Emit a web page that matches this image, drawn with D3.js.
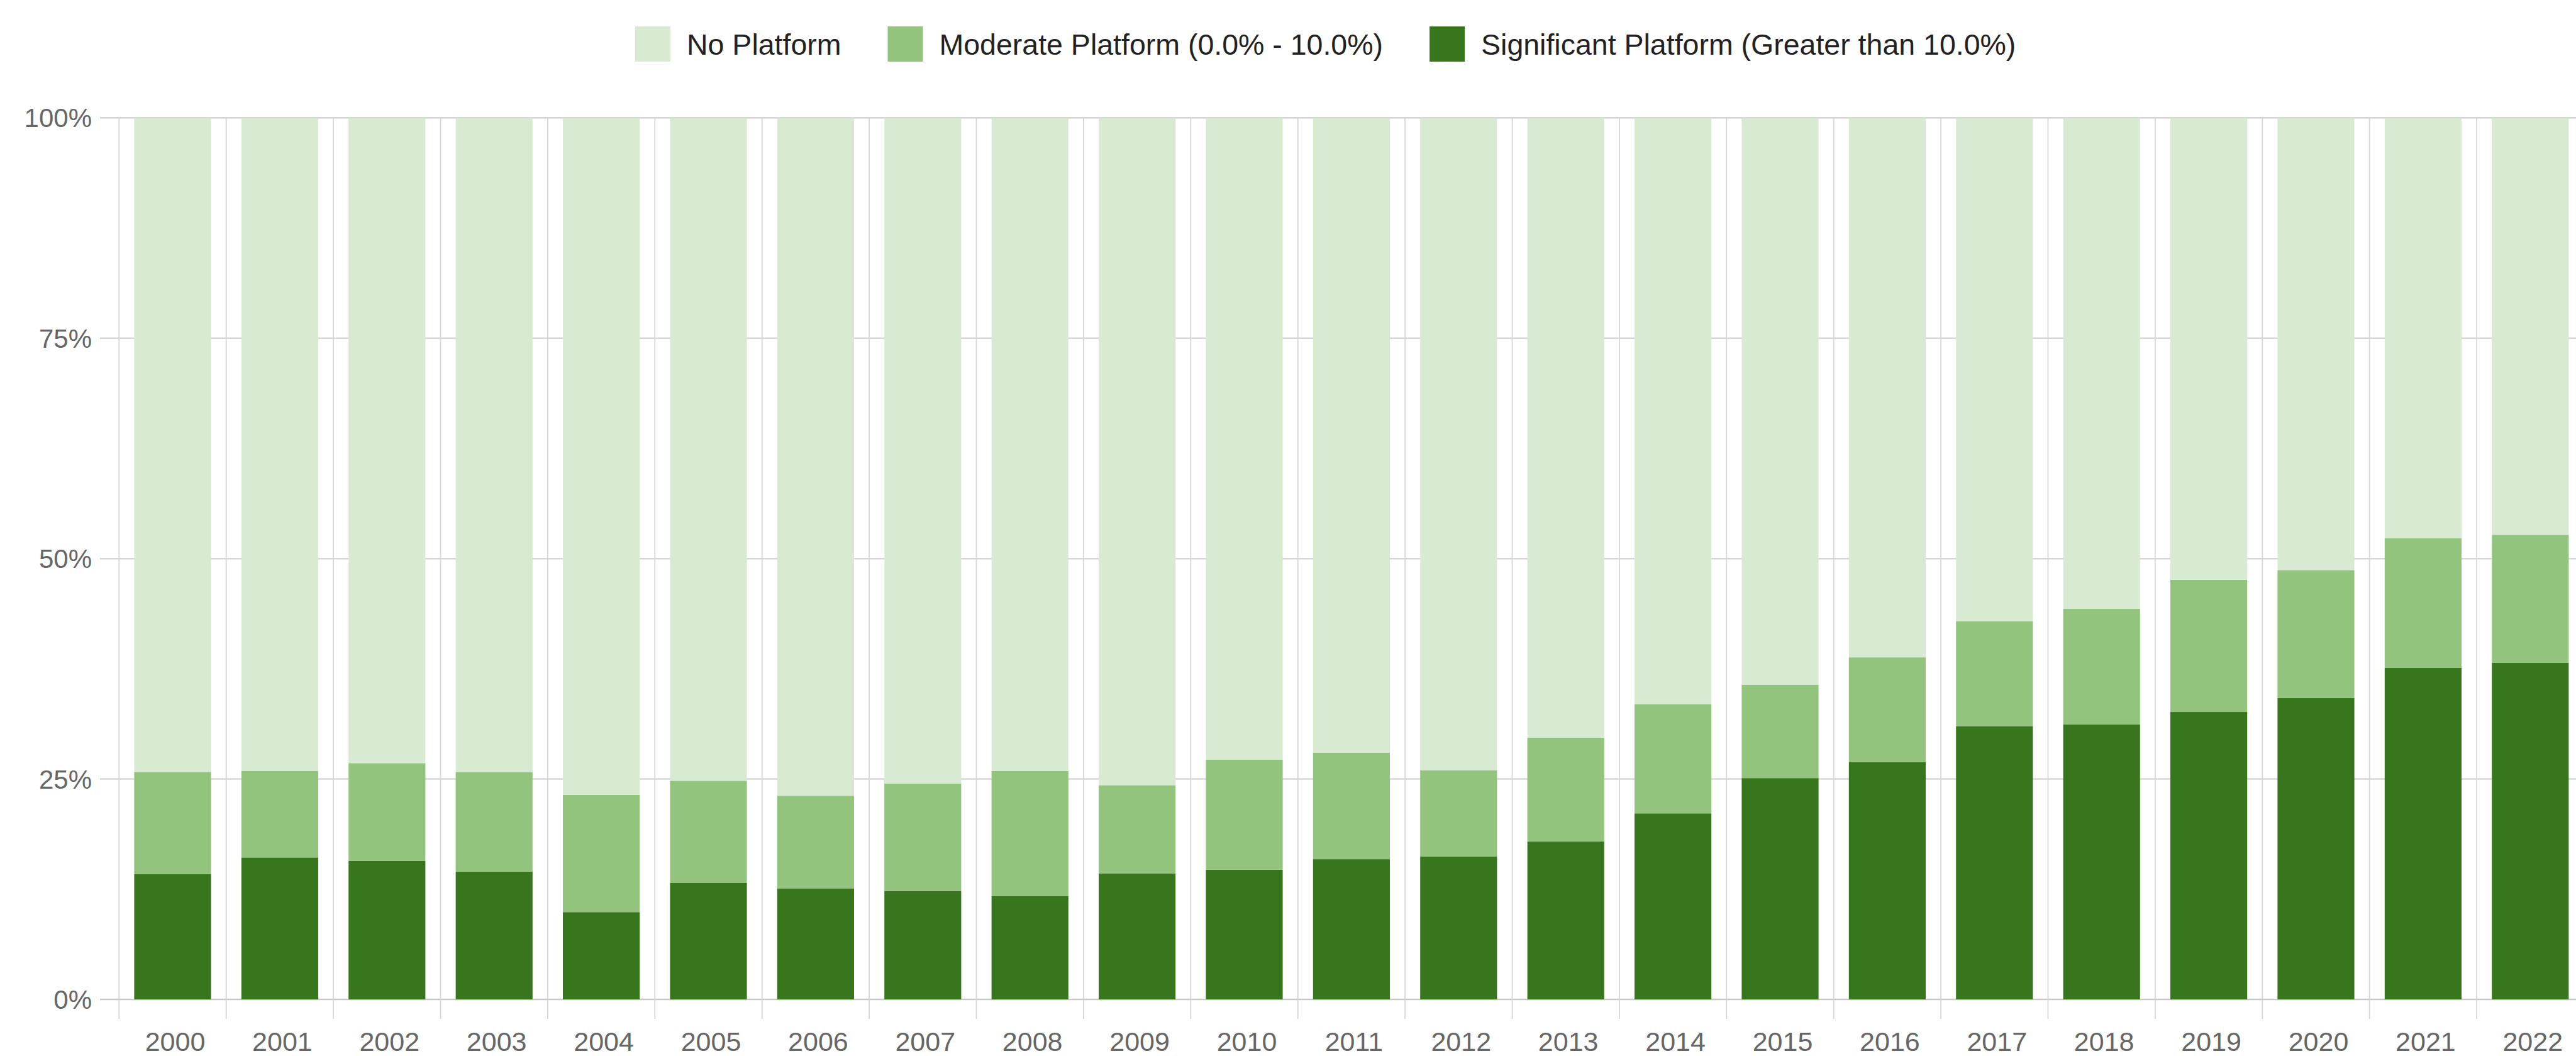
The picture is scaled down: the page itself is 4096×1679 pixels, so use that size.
<!DOCTYPE html>
<html>
<head>
    <meta charset="utf-8">
    <style>
        body {
            margin: 0;
            background: #fff;
            overflow: hidden;
        }

        svg {
            display: block;
            font-family: 'Liberation Sans', Arial, Helvetica, sans-serif;
        }
    </style>
    <title>Platform share by year</title>
</head>

<body>
    <svg width="4096" height="1679"></svg>
</body>

<script src="https://d3js.org/d3.v7.min.js"></script>
<script>
    // values, in percent of each year's total
    let years = ['2000', '2001', '2002', '2003', '2004', '2005', '2006', '2007', '2008', '2009', '2010', '2011',
        '2012', '2013', '2014', '2015', '2016', '2017', '2018', '2019', '2020', '2021', '2022']
    let significant = [14.2, 16.1, 15.7, 14.5, 9.9, 13.2, 12.6, 12.3, 11.7, 14.3, 14.7, 15.9,
        16.2, 17.9, 21.1, 25.1, 26.9, 31.0, 31.2, 32.6, 34.2, 37.6, 38.2]
    let moderate = [11.6, 9.8, 11.1, 11.3, 13.3, 11.6, 10.5, 12.2, 14.2, 10.0, 12.5, 12.1,
        9.8, 11.8, 12.4, 10.6, 11.9, 11.9, 13.1, 15.0, 14.5, 14.7, 14.5]
    let noPlatform = [74.2, 74.1, 73.2, 74.2, 76.8, 75.2, 76.9, 75.5, 74.1, 75.7, 72.8, 72.0,
        74.0, 70.3, 66.5, 64.3, 61.2, 57.1, 55.7, 52.4, 51.3, 47.7, 47.3]

    let seriesKeys = ['significant', 'moderate', 'none']
    let seriesNames = {
        none: 'No Platform',
        moderate: 'Moderate Platform (0.0% - 10.0%)',
        significant: 'Significant Platform (Greater than 10.0%)'
    }
    let legendOrder = ['none', 'moderate', 'significant']
    let yTicks = [0, 0.25, 0.5, 0.75, 1]

    let colors = {
        none: '#d9ead3',
        moderate: '#93c47d',
        significant: '#38761d'
    }

    let width = 4096
    let height = 1679
    let svg = d3.select('svg')

    let rows = years.map((y, i) => ({
        year: y,
        significant: significant[i],
        moderate: moderate[i],
        none: noPlatform[i]
    }))

    let stacked = d3.stack()
        .keys(seriesKeys)
        .offset(d3.stackOffsetExpand)(rows)

    let left = 189.3
    let step = 170.4
    let pad = 0.283

    let x = d3.scaleBand()
        .domain(years)
        .range([left, left + step * years.length])
        .paddingInner(pad)
        .paddingOuter(pad / 2)

    let y = d3.scaleLinear()
        .domain([0, 1])
        .range([1589, 187.3])

    // horizontal gridlines
    svg.append('g')
        .selectAll('line')
        .data(yTicks)
        .join('line')
        .attr('x1', 159)
        .attr('x2', width)
        .attr('y1', d => y(d))
        .attr('y2', d => y(d))
        .attr('stroke', d => d === 0 ? '#c8c8c8' : '#d6d6d6')
        .attr('stroke-width', 2.5)

    // vertical gridlines at category boundaries, with ticks below the baseline
    let bounds = years.map(d => x(d) - x.step() * pad / 2)
    bounds.push(bounds[bounds.length - 1] + x.step())
    svg.append('g')
        .selectAll('line')
        .data(bounds)
        .join('line')
        .attr('x1', d => d)
        .attr('x2', d => d)
        .attr('y1', y(1))
        .attr('y2', y(0) + 31)
        .attr('stroke', '#d6d6d6')
        .attr('stroke-width', 1.8)

    // bars
    svg.append('g')
        .selectAll('g')
        .data(stacked)
        .join('g')
        .attr('fill', d => colors[d.key])
        .selectAll('rect')
        .data(d => d)
        .join('rect')
        .attr('x', d => x(d.data.year))
        .attr('width', x.bandwidth())
        .attr('y', d => y(d[1]))
        .attr('height', d => y(d[0]) - y(d[1]))

    // y labels
    svg.append('g')
        .selectAll('text')
        .data(yTicks)
        .join('text')
        .attr('x', 146)
        .attr('y', d => y(d))
        .attr('dy', '0.36em')
        .attr('text-anchor', 'end')
        .attr('font-size', 42)
        .attr('fill', '#666')
        .text(d => d3.format('.0%')(d))

    // x labels
    svg.append('g')
        .selectAll('text')
        .data(years)
        .join('text')
        .attr('x', d => x(d) + x.bandwidth() / 2 + 4)
        .attr('y', 1656)
        .attr('dy', '0.36em')
        .attr('text-anchor', 'middle')
        .attr('font-size', 43)
        .attr('fill', '#666')
        .text(d => d)

    // legend
    let legend = svg.append('g')
    let lx = 1010
    let box = 56
    legendOrder.forEach(key => {
        legend.append('rect')
            .attr('x', lx)
            .attr('y', 70 - box / 2)
            .attr('width', box)
            .attr('height', box)
            .attr('fill', colors[key])
        let t = legend.append('text')
            .attr('x', lx + box + 26)
            .attr('y', 70)
            .attr('dy', '0.36em')
            .attr('font-size', 46.5)
            .attr('fill', '#222')
            .text(seriesNames[key])
        lx += box + 26 + t.node().getComputedTextLength() + 74
    })
</script>
</html>
